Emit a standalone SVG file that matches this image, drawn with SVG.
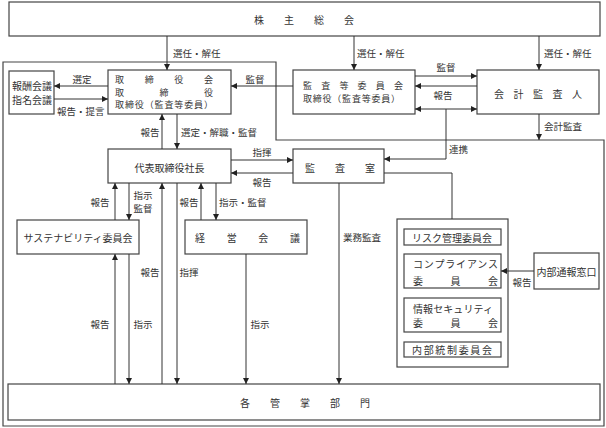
<svg xmlns="http://www.w3.org/2000/svg" width="606" height="428" viewBox="0 0 606 428">
<style>
.box{fill:#fff;stroke:#444;stroke-width:1.2}
.frame{fill:none;stroke:#444;stroke-width:1.2}
.ln{fill:none;stroke:#333;stroke-width:1}
.arr{marker-end:url(#ah)}
text{font-family:"Noto Sans CJK JP","Noto Sans CJK SC",sans-serif;font-size:10px;fill:#333;dominant-baseline:central}
.lb{font-size:9.5px}
.sm{font-size:9px}
.c{text-anchor:middle}
</style>
<defs>
<marker id="ah" viewBox="0 0 10 10" refX="10" refY="5" markerWidth="6" markerHeight="6" markerUnits="userSpaceOnUse" orient="auto-start-reverse">
<path d="M0,0 L10,5 L0,10 z" fill="#222"/>
</marker>
</defs>
<rect width="606" height="428" fill="#fff"/>
<path class="frame" d="M3,62 H276 V140 H604 V426 H3 Z"/>

<g id="kabunushi">
<rect class="box" x="9" y="2" width="591" height="34"/>
<text x="254" y="19" textLength="100" lengthAdjust="spacing">株主総会</text>
</g>
<g id="housyu">
<rect class="box" x="9" y="71" width="45" height="43"/>
<text x="12" y="85" textLength="40" lengthAdjust="spacing">報酬会議</text>
<text x="12" y="99" textLength="40" lengthAdjust="spacing">指名会議</text>
</g>
<g id="torishimariyakukai">
<rect class="box" x="108" y="70" width="123" height="44"/>
<text class="sm" x="115" y="79.5" textLength="98" lengthAdjust="spacing">取締役会</text>
<text class="sm" x="115" y="92" textLength="98" lengthAdjust="spacing">取締役</text>
<text class="sm" x="115" y="104.5" textLength="98" lengthAdjust="spacing">取締役（監査等委員）</text>
</g>
<g id="kansatou">
<rect class="box" x="293" y="70" width="122" height="44"/>
<text class="sm" x="303" y="85" textLength="100" lengthAdjust="spacing">監査等委員会</text>
<text class="sm" x="303" y="98" textLength="97" lengthAdjust="spacing">取締役（監査等委員）</text>
</g>
<g id="kaikei">
<rect class="box" x="477" y="70" width="122" height="44"/>
<text x="494" y="93" textLength="88" lengthAdjust="spacing">会計監査人</text>
</g>
<g id="daihyou">
<rect class="box" x="108" y="149" width="123" height="34"/>
<text class="c" x="169.5" y="167">代表取締役社長</text>
</g>
<g id="kansashitsu">
<rect class="box" x="293" y="149" width="91" height="34"/>
<text x="305" y="167" textLength="70" lengthAdjust="spacing">監査室</text>
</g>
<g id="sustainability">
<rect class="box" x="17" y="220" width="122" height="34"/>
<text class="c" x="78" y="237">サステナビリティ委員会</text>
</g>
<g id="keiei">
<rect class="box" x="185" y="220" width="122" height="34"/>
<text x="195" y="237" textLength="105" lengthAdjust="spacing">経営会議</text>
</g>
<g id="committees">
<rect class="box" x="397" y="219" width="111" height="148"/>
<g id="risk">
<rect class="box" x="404" y="229" width="97" height="16"/>
<text x="412" y="237" textLength="80" lengthAdjust="spacing">リスク管理委員会</text>
</g>
<g id="compliance">
<rect class="box" x="404" y="254" width="97" height="34"/>
<text x="413" y="263" textLength="85" lengthAdjust="spacing">コンプライアンス</text>
<text x="413" y="280" textLength="85" lengthAdjust="spacing">委員会</text>
</g>
<g id="security">
<rect class="box" x="404" y="298" width="97" height="34"/>
<text x="413" y="308.5" textLength="80" lengthAdjust="spacing">情報セキュリティ</text>
<text x="413" y="322" textLength="85" lengthAdjust="spacing">委員会</text>
</g>
<g id="naibutousei">
<rect class="box" x="404" y="342" width="97" height="15"/>
<text x="412" y="349.5" textLength="80" lengthAdjust="spacing">内部統制委員会</text>
</g>
</g>
<g id="naibutsuhou">
<rect class="box" x="534" y="253" width="65" height="36"/>
<text class="c" x="566.5" y="271">内部通報窓口</text>
</g>
<g id="kakubumon">
<rect class="box" x="8" y="384" width="592" height="36"/>
<text x="240" y="402" textLength="130" lengthAdjust="spacing">各管掌部門</text>
</g>

<g id="connectors">
<path class="ln arr" d="M167,36 V70"/>
<path class="ln arr" d="M354,36 V70"/>
<path class="ln arr" d="M539,36 V70"/>
<path class="ln arr" d="M108,86 H54"/>
<path class="ln arr" d="M54,99 H108"/>
<path class="ln arr" d="M293,86 H231"/>
<path class="ln arr" d="M415,76 H477"/>
<path class="ln arr" d="M477,86 H415"/>
<path class="ln arr" d="M415,109 H477" style="marker-start:url(#ah)"/>
<path class="ln arr" d="M446,109 V159 H384"/>
<path class="ln arr" d="M539,114 V140"/>
<path class="ln arr" d="M162,149 V114"/>
<path class="ln arr" d="M177,114 V149"/>
<path class="ln arr" d="M231,160 H293"/>
<path class="ln arr" d="M293,173 H231"/>
<path class="ln arr" d="M115,220 V183"/>
<path class="ln arr" d="M129,183 V220"/>
<path class="ln arr" d="M201,220 V183"/>
<path class="ln arr" d="M216,183 V220"/>
<path class="ln arr" d="M115,384 V254"/>
<path class="ln arr" d="M129,254 V384"/>
<path class="ln arr" d="M162,384 V183"/>
<path class="ln arr" d="M177,183 V384"/>
<path class="ln arr" d="M246,254 V384"/>
<path class="ln arr" d="M339,183 V384"/>
<path class="ln" d="M384,173 H452 V219"/>
<path class="ln arr" d="M534,271 H501"/>
</g>

<g id="labels">
<text class="lb" x="173" y="53">選任・解任</text>
<text class="lb" x="357" y="53">選任・解任</text>
<text class="lb" x="544" y="53">選任・解任</text>
<text class="lb c" x="82" y="79">選定</text>
<text class="lb" x="57" y="111">報告・提言</text>
<text class="lb c" x="255" y="79">監督</text>
<text class="lb c" x="446" y="67">監督</text>
<text class="lb c" x="443" y="95">報告</text>
<text class="lb" x="544" y="126">会計監査</text>
<text class="lb" x="449" y="149">連携</text>
<text class="lb c" x="150" y="132">報告</text>
<text class="lb" x="181" y="132">選定・解職・監督</text>
<text class="lb c" x="262" y="152">指揮</text>
<text class="lb c" x="262" y="182">報告</text>
<text class="lb c" x="100" y="202">報告</text>
<text class="lb c" x="143" y="195">指示</text>
<text class="lb c" x="143" y="208">監督</text>
<text class="lb c" x="189" y="202">報告</text>
<text class="lb" x="219" y="202">指示・監督</text>
<text class="lb" x="343" y="237">業務監査</text>
<text class="lb c" x="150" y="272">報告</text>
<text class="lb c" x="189" y="272">指揮</text>
<text class="lb c" x="100" y="324">報告</text>
<text class="lb c" x="143" y="324">指示</text>
<text class="lb c" x="260" y="324">指示</text>
<text class="lb c" x="522" y="282">報告</text>
</g>
</svg>
